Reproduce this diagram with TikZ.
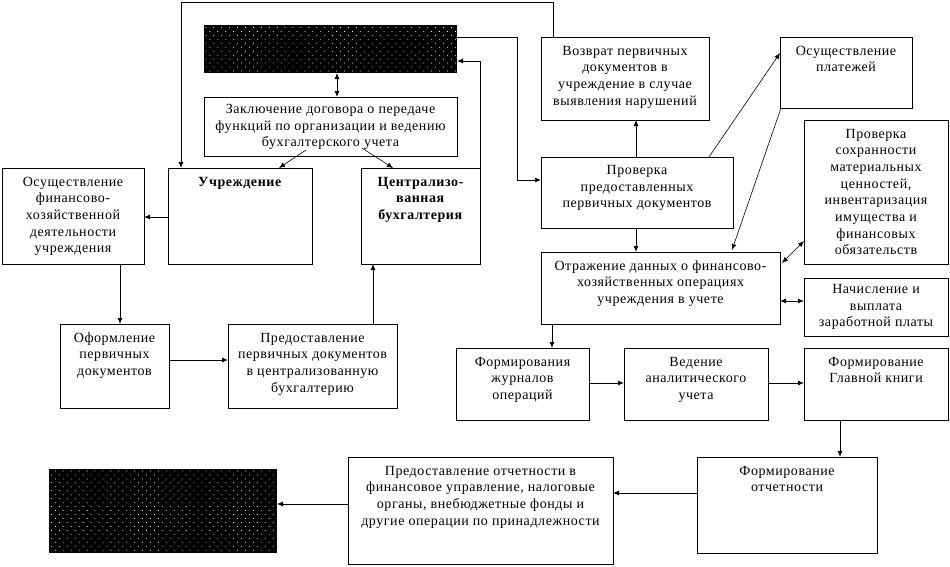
\documentclass[tikz,border=0pt]{standalone}
\usepackage{fontspec}
\setmainfont{Liberation Serif}[LetterSpace=4]
\usetikzlibrary{arrows.meta,patterns.meta,calc}
\newcommand{\bt}[4][18pt]{\parbox[c][#3][t]{#2}{\fontsize{14}{16.7}\selectfont\centering\rule{0pt}{#1}#4}}
\tikzset{
  box/.style={draw, line width=0.9pt, inner sep=0pt, outer sep=0pt, anchor=north west},
  blackbox/.style={anchor=north west, inner sep=0pt, outer sep=0pt, fill=black,
    postaction={pattern={Dots[distance=5.6pt, angle=45, radius=0.55pt]}, pattern color=white}},
  arr/.style={line width=0.9pt, -{Latex[length=6pt,width=5pt]}},
  darr/.style={line width=0.9pt, {Latex[length=6pt,width=5pt]}-{Latex[length=6pt,width=5pt]}},
  thinarr/.style={line width=0.6pt, -{Latex[length=6pt,width=5pt]}},
  thindarr/.style={line width=0.6pt, {Latex[length=6pt,width=5pt]}-{Latex[length=6pt,width=5pt]}},
}
\begin{document}
\begin{tikzpicture}[x=1pt,y=-1pt]
\useasboundingbox (0,0) rectangle (950,566);
% boxes
\node[blackbox, minimum width=253pt, minimum height=48pt] (blk1) at (204,25) {};
\node[blackbox, minimum width=228pt, minimum height=84pt] (blk2) at (49,469) {};
\node[box] (dog) at (204,97) {\bt[16.5pt]{253pt}{59pt}{Заключение договора о передаче\\функций по организации и ведению\\бухгалтерского учета}};
\node[box] (uch) at (168,168) {\bt{144pt}{96pt}{\textbf{Учреждение}}};
\node[box] (cent) at (361,168) {\bt{119pt}{96pt}{\textbf{Централизо-}\\\textbf{ванная}\\\textbf{бухгалтерия}}};
\node[box] (osu) at (2,168) {\bt{142pt}{96pt}{Осуществление\\финансово-\\хозяйственной\\деятельности\\учреждения}};
\node[box] (ofo) at (60,324) {\bt{109pt}{84pt}{Оформление\\первичных\\документов}};
\node[box] (pred) at (228,324) {\bt{169pt}{84pt}{Предоставление\\первичных документов\\в централизованную\\бухгалтерию}};
\node[box] (vozv) at (541,37) {\bt{168pt}{83pt}{Возврат первичных\\документов в\\учреждение в случае\\выявления нарушений}};
\node[box] (plat) at (780,37) {\bt{132pt}{71pt}{Осуществление\\платежей}};
\node[box] (sokh) at (804,120) {\bt{144pt}{144pt}{Проверка\\сохранности\\материальных\\ценностей,\\инвентаризация\\имущества и\\финансовых\\обязательств}};
\node[box] (prov) at (541,157) {\bt[17.5pt]{192pt}{71pt}{Проверка\\предоставленных\\первичных документов}};
\node[box] (otr) at (541,252) {\bt{239pt}{72pt}{Отражение данных о финансово-\\хозяйственных операциях\\учреждения в учете}};
\node[box] (nach) at (804,278) {\bt[15.5pt]{144pt}{58pt}{Начисление и\\выплата\\заработной платы}};
\node[box] (jur) at (456,348) {\bt{133pt}{72pt}{Формирования\\журналов\\операций}};
\node[box] (ved) at (624,348) {\bt{144pt}{72pt}{Ведение\\аналитического\\учета}};
\node[box] (glav) at (804,348) {\bt{144pt}{72pt}{Формирование\\Главной книги}};
\node[box] (fotch) at (697,457) {\bt{180pt}{96pt}{Формирование\\отчетности}};
\node[box] (potch) at (348,457) {\bt{265pt}{107pt}{Предоставление отчетности в\\финансовое управление, налоговые\\органы, внебюджетные фонды и\\другие операции по принадлежности}};
% routing coordinates
\coordinate (r1) at (553,2);
\coordinate (r2) at (181,2);
\coordinate (r3) at (517,37);
\coordinate (r4) at (517,180);
\coordinate (r5) at (480,61);
\coordinate (xd) at (337,0);
\coordinate (ds1) at (306,150);
\coordinate (ds2) at (362,148);
\coordinate (yu) at (0,217);
\coordinate (xo) at (120,0);
\coordinate (yo) at (0,360);
\coordinate (xp) at (373,0);
\coordinate (xv) at (636,0);
\coordinate (pp1) at (709,157);
\coordinate (pp2) at (780,53);
\coordinate (po1) at (781,108);
\coordinate (po2) at (732,250);
\coordinate (so1) at (782,263);
\coordinate (so2) at (804,241);
\coordinate (yn) at (0,301);
\coordinate (xj) at (552,0);
\coordinate (yj) at (0,383);
\coordinate (xg) at (840,0);
\coordinate (yf) at (0,493);
\coordinate (yb) at (0,504);
% connectors
\draw[arr] (vozv.north -| r1) -- (r1) -- (r2) -- (uch.north -| r2);
\draw[arr] (blk1.east |- r3) -- (r3) -- (r4) -- (prov.west |- r4);
\draw[arr] (cent.north east) -- (r5) -- (blk1.east |- r5);
\draw[darr] (blk1.south -| xd) -- (dog.north -| xd);
\draw[thinarr] (ds1) -- (uch.north -| 279,0);
\draw[thinarr] (ds2) -- (cent.north -| 393,0);
\draw[arr] (uch.west |- yu) -- (osu.east |- yu);
\draw[arr] (osu.south -| xo) -- (ofo.north -| xo);
\draw[arr] (ofo.east |- yo) -- (pred.west |- yo);
\draw[arr] (pred.north -| xp) -- (cent.south -| xp);
\draw[arr] (prov.north -| xv) -- (vozv.south -| xv);
\draw[thinarr] (pp1) -- (pp2);
\draw[thinarr] (po1) -- (po2);
\draw[arr] (prov.south -| xv) -- (otr.north -| xv);
\draw[thindarr] (so1) -- (so2);
\draw[darr] (otr.east |- yn) -- (nach.west |- yn);
\draw[arr] (otr.south -| xj) -- (jur.north -| xj);
\draw[arr] (jur.east |- yj) -- (ved.west |- yj);
\draw[arr] (ved.east |- yj) -- (glav.west |- yj);
\draw[arr] (glav.south -| xg) -- (fotch.north -| xg);
\draw[arr] (fotch.west |- yf) -- (potch.east |- yf);
\draw[arr] (potch.west |- yb) -- (blk2.east |- yb);
\end{tikzpicture}
\end{document}
